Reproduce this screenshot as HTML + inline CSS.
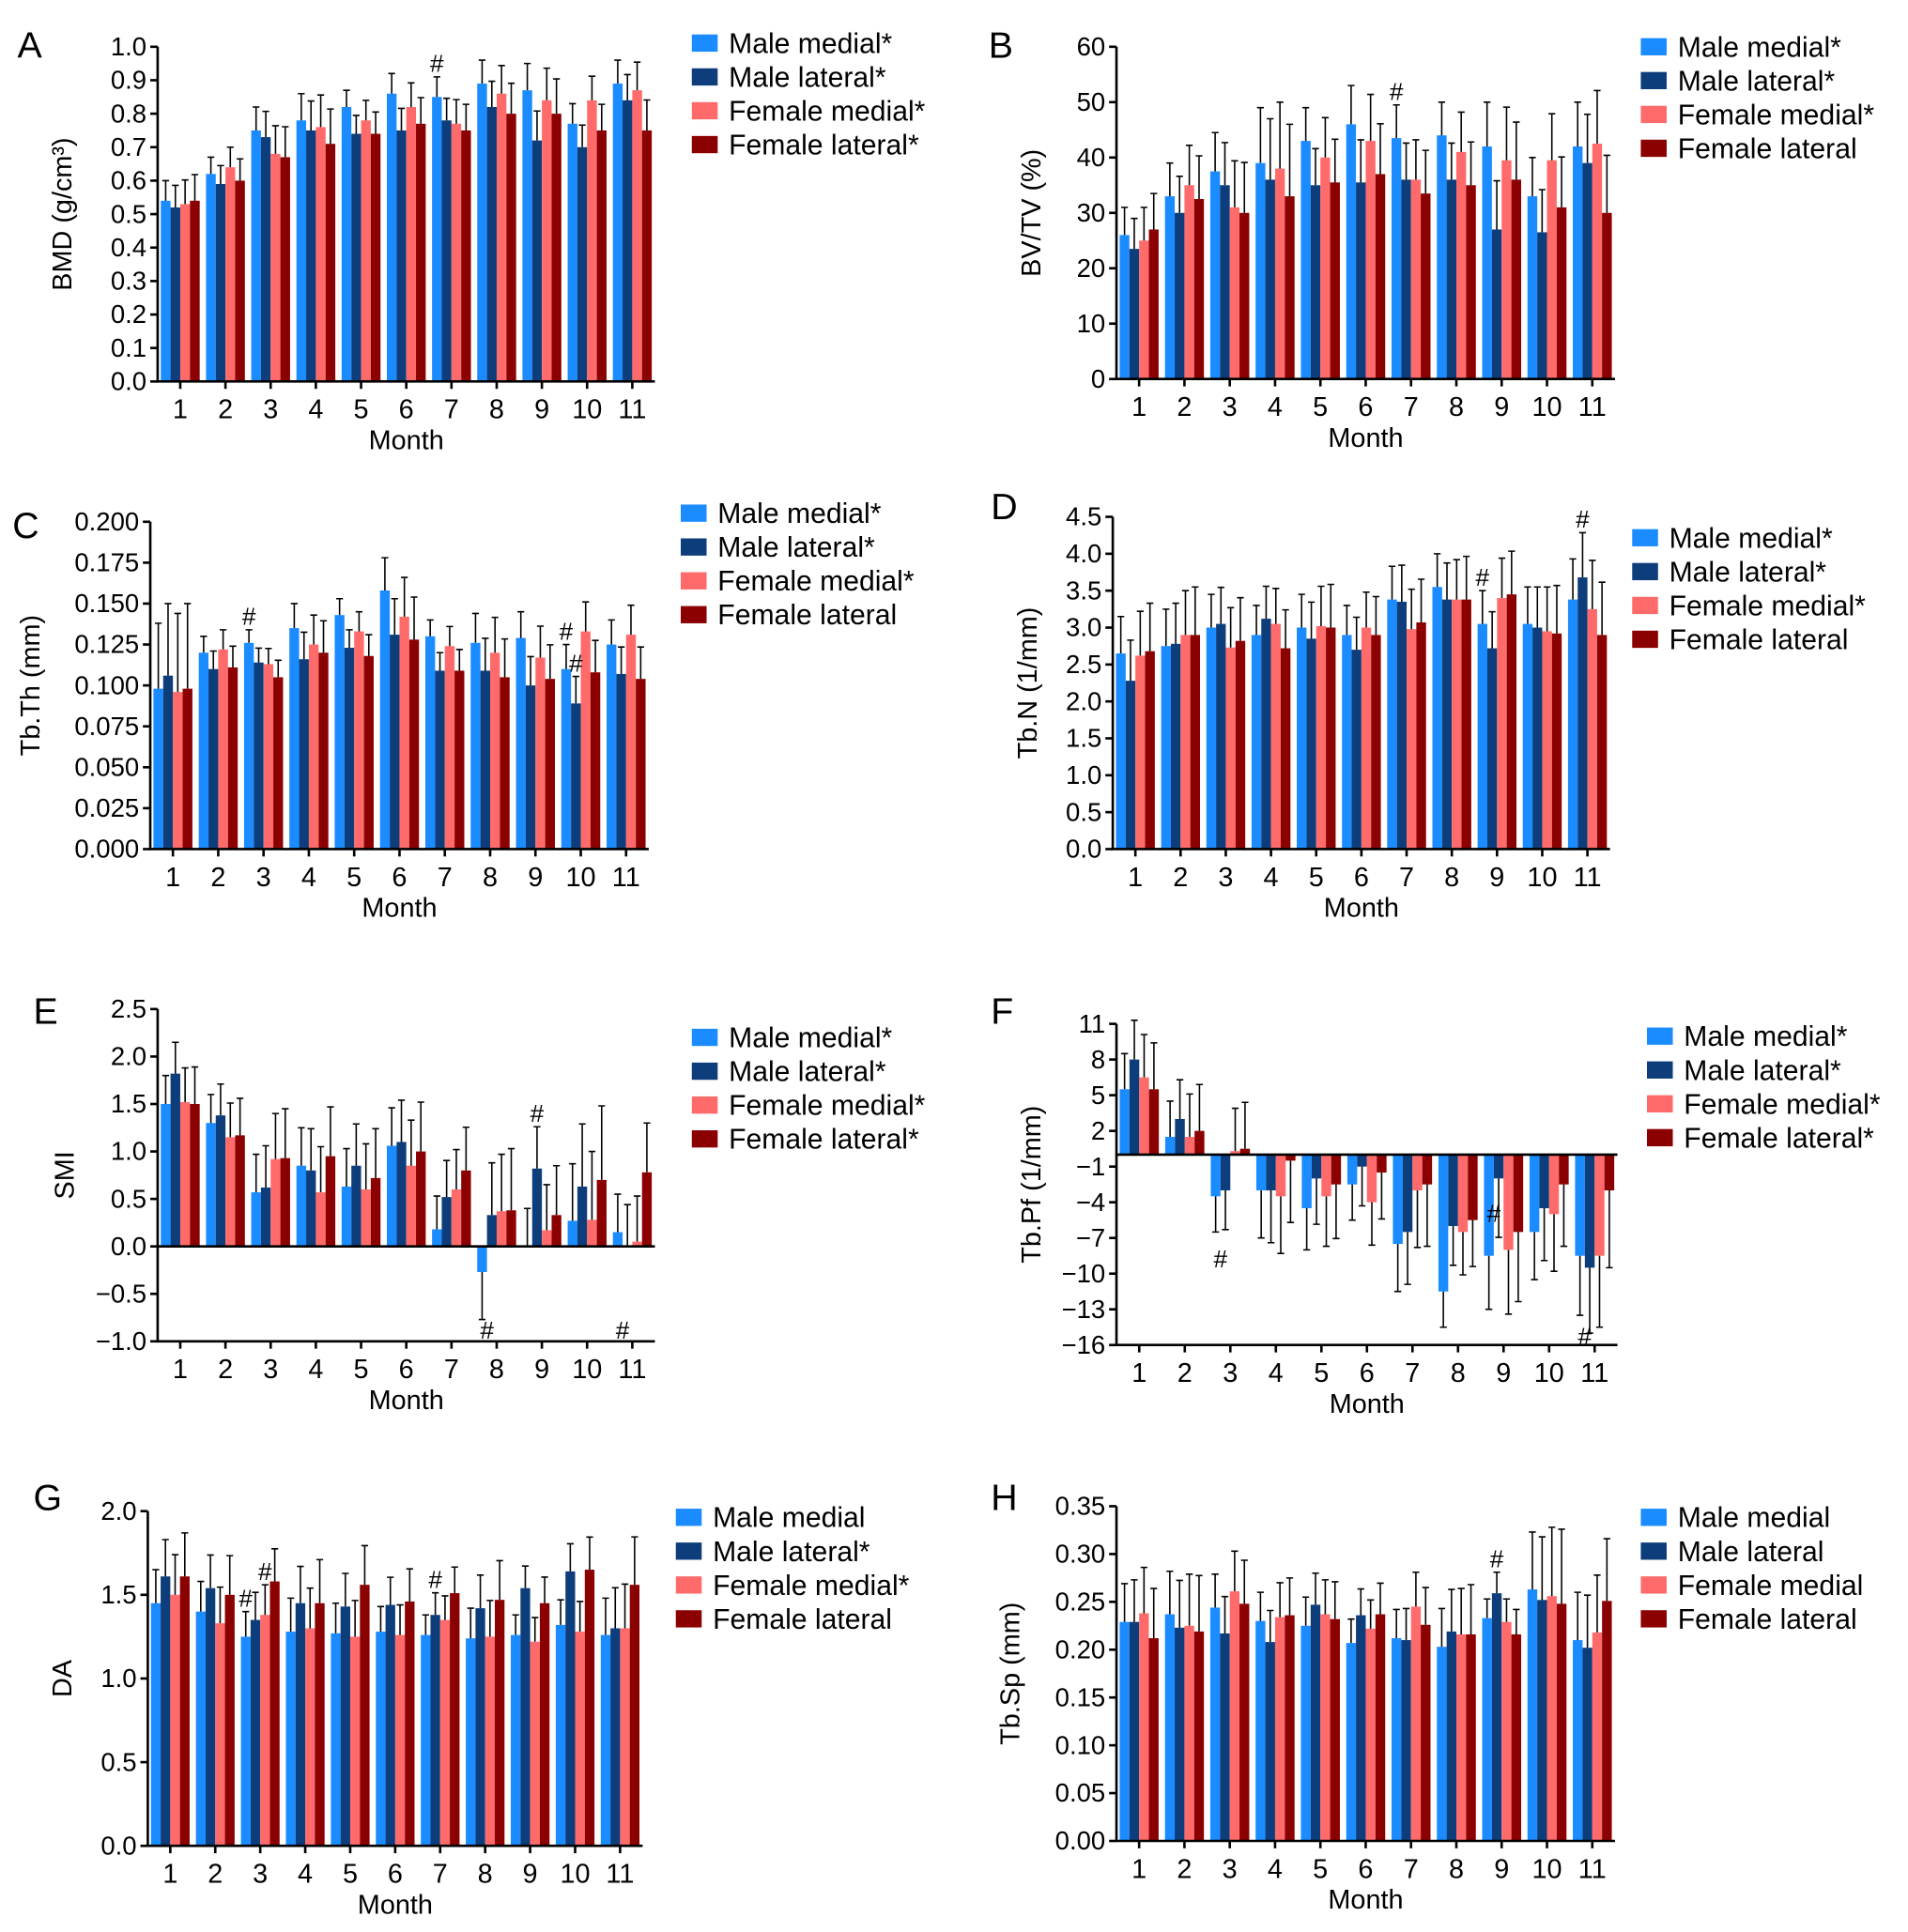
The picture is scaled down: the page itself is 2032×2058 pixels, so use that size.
<!DOCTYPE html>
<html><head><meta charset="utf-8"><style>
html,body{margin:0;padding:0;background:#fff}
svg{display:block;font-family:"Liberation Sans",Arial,sans-serif}
</style></head><body>
<svg id="fig" width="2032" height="2058" viewBox="0 0 1550 1570"></svg>
<script>
const months=['1','2','3','4','5','6','7','8','9','10','11'];
const seriesColors=['#1a8cff','#0d3d7a','#ff6b6b','#8b0000'];
// Panel A BMD
const aMM=[.54,.62,.75,.78,.82,.86,.85,.89,.87,.77,.89];
const aML=[.52,.59,.73,.75,.74,.75,.78,.82,.72,.70,.84];
const aFM=[.53,.64,.68,.76,.78,.82,.77,.86,.84,.84,.87];
const aFL=[.54,.60,.67,.71,.74,.77,.75,.80,.80,.75,.75];
const aErr=[.06,.05,.07,.08,.05,.06,.06,.07,.08,.06,.07];
const aTicks=['0.0','0.1','0.2','0.3','0.4','0.5','0.6','0.7','0.8','0.9','1.0'];
// Panel B BV/TV
const bMM=[26,33,37.5,39,43,46,43.5,44,42,33,42];
const bML=[23.5,30,35,36,35,35.5,36,36,27,26.5,39];
const bFM=[25,35,31,38,40,43,36,41,39.5,39.5,42.5];
const bFL=[27,32.5,30,33,35.5,37,33.5,35,36,31,30];
const bErr=[5,6,7,10,6,7,6,6,8,7,8];
const bTicks=['0','10','20','30','40','50','60'];
// Panel C Tb.Th
const cMM=[.098,.120,.126,.135,.143,.158,.130,.126,.129,.110,.125];
const cML=[.106,.110,.114,.116,.123,.131,.109,.109,.100,.089,.107];
const cFM=[.096,.122,.113,.125,.133,.142,.124,.120,.117,.133,.131];
const cFL=[.098,.111,.105,.120,.118,.128,.109,.105,.104,.108,.104];
const cErr=[.04,.01,.008,.015,.01,.02,.01,.018,.016,.015,.015];
const cTicks=['0.000','0.025','0.050','0.075','0.100','0.125','0.150','0.175','0.200'];
// Panel D Tb.N
const dMM=[2.65,2.75,3.0,2.9,3.0,2.9,3.38,3.55,3.05,3.05,3.38];
const dML=[2.28,2.78,3.05,3.12,2.85,2.70,3.35,3.38,2.72,3.0,3.68];
const dFM=[2.62,2.90,2.73,3.05,3.02,3.0,2.98,3.38,3.40,2.95,3.25];
const dFL=[2.68,2.90,2.82,2.72,3.00,2.90,3.07,3.38,3.45,2.92,2.90];
const dErr=[.5,.5,.45,.4,.45,.4,.45,.45,.45,.5,.55];
const dTicks=['0.0','0.5','1.0','1.5','2.0','2.5','3.0','3.5','4.0','4.5'];
// Panel E SMI
const eMM=[1.50,1.30,0.57,0.85,0.63,1.06,0.18,-0.27,0.0,0.27,0.15];
const eML=[1.82,1.38,0.62,0.80,0.85,1.10,0.52,0.33,0.82,0.63,0.0];
const eFM=[1.52,1.15,0.92,0.57,0.60,0.85,0.60,0.37,0.17,0.28,0.05];
const eFL=[1.50,1.17,0.93,0.95,0.72,1.00,0.80,0.38,0.33,0.70,0.78];
const eErr=[.3,.3,.4,.4,.4,.4,.35,.5,.4,.6,.4];
const eTicks=['−1.0','−0.5','0.0','0.5','1.0','1.5','2.0','2.5'];
// Panel F Tb.Pf
const fMM=[5.5,1.5,-3.5,-3.0,-4.5,-2.5,-7.5,-11.5,-8.5,-6.5,-8.5];
const fML=[8,3,-3,-3,-2,-1,-6.5,-6,-2,-4.5,-9.5];
const fFM=[6.5,1.5,0.3,-3.5,-3.5,-4,-3,-6.5,-8,-5,-8.5];
const fFL=[5.5,2,0.5,-0.5,-2.5,-1.5,-2.5,-5.5,-6.5,-2.5,-3];
const fErr=[3,3,3,4,3.5,3,4,3,4.5,4,5];
const fTicks=['−16','−13','−10','−7','−4','−1','2','5','8','11'];
// Panel G DA
const gMM=[1.45,1.40,1.25,1.28,1.27,1.28,1.26,1.24,1.26,1.32,1.26];
const gML=[1.61,1.54,1.35,1.45,1.43,1.44,1.38,1.42,1.54,1.64,1.30];
const gFM=[1.50,1.33,1.38,1.30,1.25,1.26,1.35,1.25,1.22,1.28,1.30];
const gFL=[1.61,1.50,1.58,1.45,1.56,1.46,1.51,1.47,1.45,1.65,1.56];
const gErr=[.2,.18,.15,.2,.18,.15,.12,.18,.12,.15,.22];
const gTicks=['0.0','0.5','1.0','1.5','2.0'];
// Panel H Tb.Sp
const hMM=[.229,.237,.244,.230,.225,.207,.212,.203,.233,.263,.210];
const hML=[.229,.223,.217,.208,.247,.236,.210,.219,.259,.252,.202];
const hFM=[.238,.225,.261,.234,.237,.222,.245,.216,.229,.256,.218];
const hFL=[.212,.219,.248,.236,.232,.237,.226,.216,.216,.248,.251];
const hErr=[.04,.045,.035,.03,.03,.025,.03,.04,.02,.06,.05];
const hTicks=['0.00','0.05','0.10','0.15','0.20','0.25','0.30','0.35'];

const NS='http://www.w3.org/2000/svg';
const svg=document.getElementById('fig');
function mk(tag,attrs,parent,text){const e=document.createElementNS(NS,tag);for(const k in attrs)e.setAttribute(k,attrs[k]);if(text!==undefined)e.textContent=text;(parent||svg).appendChild(e);return e;}

const panels=[
 {id:'a',letter:'A',lx:14,ly:35,x0:128,x1:532,top:38,bot:310,min:0,max:1,ticks:aTicks,data:[aMM,aML,aFM,aFL],err:aErr,ylab:'BMD (g/cm³)',yx:58,
  leg:['Male medial*','Male lateral*','Female medial*','Female lateral*'],legx:562,legy:35,hash:[[6,0]]},
 {id:'b',letter:'B',lx:803,ly:35,x0:907,x1:1312,top:38,bot:308,min:0,max:60,ticks:bTicks,data:[bMM,bML,bFM,bFL],err:bErr,ylab:'BV/TV (%)',yx:845,
  leg:['Male medial*','Male lateral*','Female medial*','Female lateral'],legx:1333,legy:38,hash:[[6,0]]},
 {id:'c',letter:'C',lx:10,ly:425,x0:122,x1:527,top:424,bot:690,min:0,max:0.2,ticks:cTicks,data:[cMM,cML,cFM,cFL],err:cErr,ylab:'Tb.Th (mm)',yx:32,
  leg:['Male medial*','Male lateral*','Female medial*','Female lateral'],legx:553,legy:417,hash:[[2,0],[9,0],[9,1]]},
 {id:'d',letter:'D',lx:805,ly:410,x0:904,x1:1308,top:420,bot:690,min:0,max:4.5,ticks:dTicks,data:[dMM,dML,dFM,dFL],err:dErr,ylab:'Tb.N (1/mm)',yx:842,
  leg:['Male medial*','Male lateral*','Female medial*','Female lateral'],legx:1326,legy:437,hash:[[10,1],[8,0]]},
 {id:'e',letter:'E',lx:27,ly:820,x0:128,x1:532,top:820,bot:1090,min:-1,max:2.5,ticks:eTicks,data:[eMM,eML,eFM,eFL],err:eErr,ylab:'SMI',yx:60,
  leg:['Male medial*','Male lateral*','Female medial*','Female lateral*'],legx:562,legy:843,hash:[[8,1]],bhash:[[7,1088],[10,1088]]},
 {id:'f',letter:'F',lx:805,ly:820,x0:907,x1:1314,top:832,bot:1093,min:-16,max:11,ticks:fTicks,data:[fMM,fML,fFM,fFL],err:fErr,ylab:'Tb.Pf (1/mm)',yx:845,
  leg:['Male medial*','Male lateral*','Female medial*','Female lateral*'],legx:1338,legy:842,hash:[],bhash:[[2,1030],[8,993],[10,1093]]},
 {id:'g',letter:'G',lx:27,ly:1215,x0:120,x1:522,top:1228,bot:1500,min:0,max:2,ticks:gTicks,data:[gMM,gML,gFM,gFL],err:gErr,ylab:'DA',yx:58,
  leg:['Male medial','Male lateral*','Female medial*','Female lateral'],legx:549,legy:1233,hash:[[2,0],[2,2],[6,1]]},
 {id:'h',letter:'H',lx:805,ly:1215,x0:907,x1:1312,top:1224,bot:1496,min:0,max:0.35,ticks:hTicks,data:[hMM,hML,hFM,hFL],err:hErr,ylab:'Tb.Sp (mm)',yx:828,
  leg:['Male medial','Male lateral','Female medial','Female lateral'],legx:1333,legy:1233,hash:[[8,1]]}
];

panels.forEach(p=>{
  const g=mk('g',{});
  
  
  const y=v=>p.bot-(v-p.min)/(p.max-p.min)*(p.bot-p.top);
  const gw=(p.x1-p.x0)/11, bw=gw*0.215;
  const cx=i=>p.x0+gw*(i+0.5);
  const bx=(i,s)=>cx(i)+(s-2)*bw;
  const zero=y(Math.max(p.min,0));
  const lt=mk('text',{x:p.lx,y:p.ly+12,'font-size':30,fill:'#000'},g,p.letter);
  
  
  p.data.forEach((ser,s)=>{
    ser.forEach((v,i)=>{
      const y1=y(v), x=bx(i,s);
      const r=mk('rect',{x:x,y:Math.min(y1,zero),width:bw,height:Math.max(0.5,Math.abs(zero-y1)),fill:seriesColors[s]},g);
      
      
      const e=p.err[i]*(1+0.1*s)*(v<0?-1:1);
      const ye=y(v+e), xm=x+bw/2;
      const el=mk('path',{d:`M${xm},${y1}V${ye}M${xm-bw*0.35},${ye}H${xm+bw*0.35}`,stroke:'#000','stroke-width':1.2,fill:'none'},g);
      
      
    });
  });
  const ax=mk('path',{d:`M${p.x0},${p.top}V${p.bot}H${p.x1}`,stroke:'#000','stroke-width':2,fill:'none'},g);
  
  
  if(p.min<0){
    const zl=mk('line',{x1:p.x0,x2:p.x1,y1:zero,y2:zero,stroke:'#000','stroke-width':2},g);
    
    
  }
  p.ticks.forEach((t,k)=>{
    const v=p.min+k*(p.max-p.min)/(p.ticks.length-1), ty=y(v);
    mk('line',{x1:p.x0-6,x2:p.x0,y1:ty,y2:ty,stroke:'#000','stroke-width':2},g);
    const tl=mk('text',{x:p.x0-9,y:ty+7,'font-size':21,'text-anchor':'end',fill:'#000'},g,t);
    
    
  });
  months.forEach((m,i)=>{
    mk('line',{x1:cx(i),x2:cx(i),y1:p.bot,y2:p.bot+6,stroke:'#000','stroke-width':2},g);
    const ml=mk('text',{x:cx(i),y:p.bot+30,'font-size':22,'text-anchor':'middle',fill:'#000'},g,m);
    
    
  });
  const xt=mk('text',{x:(p.x0+p.x1)/2,y:p.bot+55,'font-size':22,'text-anchor':'middle',fill:'#000'},g,'Month');
  
  
  const ym=(p.top+p.bot)/2;
  const yt=mk('text',{x:p.yx,y:ym,'font-size':22,'text-anchor':'middle',fill:'#000',transform:`rotate(-90 ${p.yx} ${ym})`},g,p.ylab);
  
  
  (p.hash||[]).forEach(h=>{
    const v=p.data[h[1]][h[0]]; const e=p.err[h[0]]*(1+0.1*h[1]);
    const ht=mk('text',{x:bx(h[0],h[1])+bw/2,y:y(v+e)-4,'font-size':20,'text-anchor':'middle',fill:'#000'},g,'#');
    
    
  });
  (p.bhash||[]).forEach(h=>{
    const ht=mk('text',{x:cx(h[0])-bw,y:h[1],'font-size':20,'text-anchor':'middle',fill:'#000'},g,'#');
    
    
  });
  p.leg.forEach((l,s)=>{
    const ly=p.legy+s*27.5;
    const sw=mk('rect',{x:p.legx,y:ly-7,width:21,height:14,fill:seriesColors[s]},g);
    
    
    const lt2=mk('text',{x:p.legx+30,y:ly+8,'font-size':23,fill:'#000'},g,l);
    
    
  });
});
</script>
</body></html>
